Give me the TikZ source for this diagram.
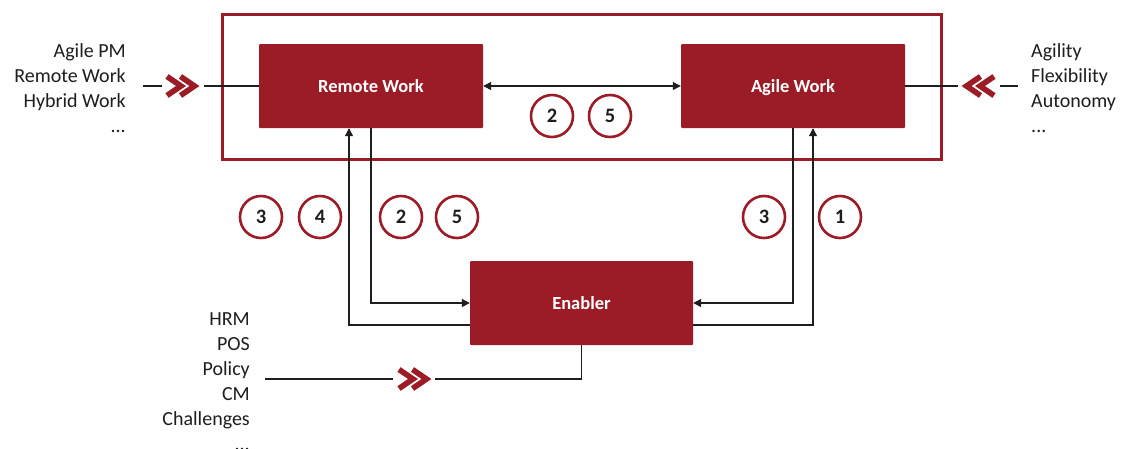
\documentclass[tikz,border=0pt]{standalone}
\usepackage{fontspec}
\setmainfont{Carlito}
\usetikzlibrary{arrows.meta,calc}
\definecolor{brick}{RGB}{155,28,38}
\definecolor{ink}{RGB}{30,30,30}
\tikzset{
  box/.style={fill=brick, draw=none, minimum width=224pt, minimum height=84pt,
    text=white, font=\bfseries\fontsize{18.5}{22}\selectfont, rounded corners=1pt,
    text height=15pt, text depth=3pt},
  badge/.style={circle, draw=brick, line width=2.6pt, fill=white, minimum size=42pt,
    inner sep=0pt, text=ink, font=\bfseries\fontsize{20.5}{24}\selectfont},
  link/.style={line width=1.2pt, draw=ink},
  arr/.style={link, -{Triangle[length=8pt,width=8pt]}},
  biarr/.style={link, {Triangle[length=8pt,width=8pt]}-{Triangle[length=8pt,width=8pt]}},
  tags/.style={inner sep=0pt, text=ink, font=\fontsize{20}{25}\selectfont},
  chevrons/.pic={
    \draw[brick, line width=5.6pt, line cap=butt, line join=miter]
      (-14,-9.5) -- (0,0) -- (-14,9.5)
      (-0.5,-9.5) -- (13.5,0) -- (-0.5,9.5);
  }
}
\begin{document}
\begin{tikzpicture}[x=1pt,y=-1pt]
  \useasboundingbox[fill=white] (0,0) rectangle (1123,448);

  % frame around the two working modes
  \draw[brick, line width=3pt] (222,14) rectangle (941,159);

  % main blocks
  \node[box] (rw) at (371,86) {Remote Work};
  \node[box] (aw) at (793,86) {Agile Work};
  \node[box, minimum width=223pt] (en) at (581.5,303) {Enabler};

  % relation between the two modes
  \draw[biarr] (rw.east) -- (aw.west);
  \node[badge] (b25a) at (552,116) {2};
  \node[badge] (b25b) at (610,116) {5};

  % Remote Work <-> Enabler
  \draw[arr] (rw.south) |- (en.west);
  \draw[arr] ($(en.west)+(0,22)$) -| ($(rw.south)+(-22,0)$);
  % Agile Work <-> Enabler
  \draw[arr] (aw.south) |- (en.east);
  \draw[arr] ($(en.east)+(0,22)$) -| ($(aw.south)+(20,0)$);

  \node[badge] (l3) at (261,217) {3};
  \node[badge] (l4) at (320,217) {4};
  \node[badge] (l2) at (401,217) {2};
  \node[badge] (l5) at (457,217) {5};
  \node[badge] (r3) at (764,217) {3};
  \node[badge] (r1) at (840,217) {1};

  % left inputs
  \node[tags, align=right, anchor=east] (lt) at (126,88)
    {Agile PM\\Remote Work\\Hybrid Work\\...};
  \coordinate (la) at (143,86);
  \coordinate (lb) at (162,86);
  \coordinate (lc) at (204,86);
  \draw[link] (la) -- (lb);
  \pic at (181,86) {chevrons};
  \draw[link] (lc) -- (rw.west);

  % right inputs
  \node[tags, align=left, anchor=west] (rt) at (1031,88)
    {Agility\\Flexibility\\Autonomy\\...};
  \coordinate (ra) at (958,86);
  \coordinate (rb) at (1000,86);
  \coordinate (rc) at (1018,86);
  \draw[link] (aw.east) -- (ra);
  \pic[xscale=-1] at (980,86) {chevrons};
  \draw[link] (rb) -- (rc);

  % enabler inputs
  \node[tags, align=right, anchor=east] (bt) at (250,382)
    {HRM\\POS\\Policy\\CM\\Challenges\\...};
  \coordinate (ba) at (265,379);
  \coordinate (bb) at (393,379);
  \coordinate (bc) at (435,379);
  \draw[link] (ba) -- (bb);
  \pic at (413,379) {chevrons};
  \draw[link] (bc) -| (en.south);
\end{tikzpicture}
\end{document}
